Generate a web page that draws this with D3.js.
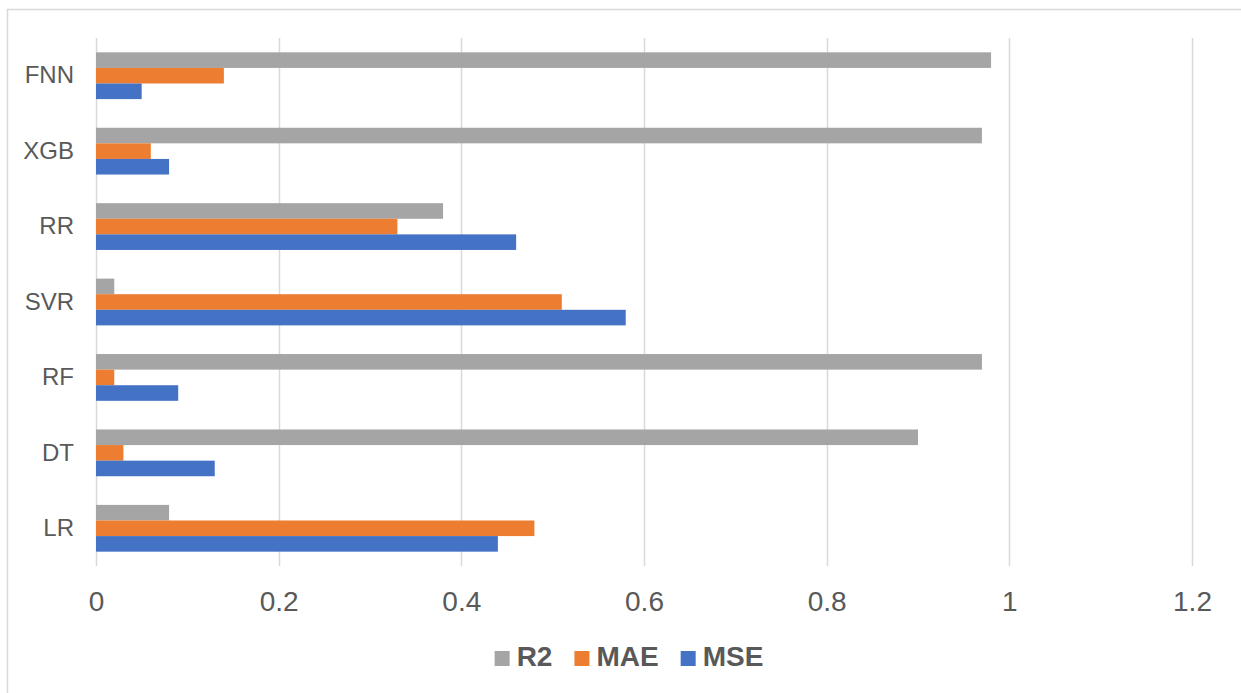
<!DOCTYPE html>
<html>
<head>
<meta charset="utf-8">
<script src="https://cdn.jsdelivr.net/npm/d3@7/dist/d3.min.js"></script>
<style>
  html, body { margin: 0; padding: 0; background: #fff; }
  svg { display: block; }
  text { font-family: "Liberation Sans", Arial, sans-serif; fill: #595959; }
</style>
</head>
<body>
<svg id="chart" width="1241" height="693"></svg>
<script>
// Models, top to bottom
const models = ["FNN", "XGB", "RR", "SVR", "RF", "DT", "LR"];
// Metrics drawn within each model group, top to bottom
const metrics = ["R2", "MAE", "MSE"];
const r2Values  = [0.98, 0.97, 0.38, 0.02, 0.97, 0.90, 0.08];
const maeValues = [0.14, 0.06, 0.33, 0.51, 0.02, 0.03, 0.48];
const mseValues = [0.05, 0.08, 0.46, 0.58, 0.09, 0.13, 0.44];
const xTicks = [0, 0.2, 0.4, 0.6, 0.8, 1, 1.2];
const metricColors = ["#A5A5A5", "#ED7D31", "#4472C4"];

const seriesValues = { R2: r2Values, MAE: maeValues, MSE: mseValues };
const rows = models.map((m, i) => ({
  model: m,
  values: metrics.map(k => ({ key: k, value: seriesValues[k][i] }))
}));

const svg = d3.select("#chart");
const plot = { left: 96, right: 1192, top: 38, bottom: 566 };

// Chart-area border
svg.append("rect")
  .attr("x", 7.5).attr("y", 9.5)
  .attr("width", 1400).attr("height", 900)
  .attr("fill", "none").attr("stroke", "#D9D9D9").attr("stroke-width", 1.5);

const x = d3.scaleLinear().domain([0, 1.2]).range([plot.left, plot.right]);
const y = d3.scaleBand().domain(models).range([plot.top, plot.bottom])
  .paddingInner(0.38).paddingOuter(0.19);
const yInner = d3.scaleBand().domain(metrics).range([0, y.bandwidth()]);
const color = d3.scaleOrdinal().domain(metrics).range(metricColors);

// Vertical gridlines
svg.append("g")
  .selectAll("line")
  .data(xTicks)
  .join("line")
  .attr("x1", d => Math.round(x(d)) + 0.5)
  .attr("x2", d => Math.round(x(d)) + 0.5)
  .attr("y1", plot.top).attr("y2", plot.bottom)
  .attr("stroke", "#D9D9D9").attr("stroke-width", 1.5);

// Bars
const groups = svg.append("g")
  .selectAll("g")
  .data(rows)
  .join("g")
  .attr("transform", d => `translate(0,${y(d.model)})`);

groups.selectAll("rect")
  .data(d => d.values)
  .join("rect")
  .attr("x", x(0))
  .attr("y", d => yInner(d.key))
  .attr("width", d => x(d.value) - x(0))
  .attr("height", yInner.bandwidth())
  .attr("fill", d => color(d.key));

// X axis labels
const xAxis = d3.axisBottom(x).tickValues(xTicks).tickSize(0).tickPadding(0)
  .tickFormat(d3.format("~g"));
const gx = svg.append("g").attr("transform", `translate(0,${plot.bottom})`).call(xAxis);
gx.select(".domain").remove();
gx.selectAll("text")
  .attr("y", 0).attr("dy", null)
  .attr("transform", "translate(0,45)")
  .style("font-size", "28px")
  .style("font-family", "'Liberation Sans', Arial, sans-serif")
  .attr("fill", "#595959");

// Y axis labels
const yAxis = d3.axisLeft(y).tickSize(0).tickPadding(22);
const gy = svg.append("g").attr("transform", `translate(${plot.left},0)`).call(yAxis);
gy.select(".domain").remove();
gy.selectAll("text")
  .style("font-size", "24px")
  .style("font-family", "'Liberation Sans', Arial, sans-serif")
  .attr("fill", "#595959");

// Legend
const legend = svg.append("g");
const items = legend.selectAll("g").data(metrics).join("g");
items.append("rect")
  .attr("width", 15).attr("height", 15)
  .attr("y", -15)
  .attr("fill", d => color(d));
items.append("text")
  .attr("x", 22)
  .attr("y", 0)
  .style("font-size", "28px")
  .style("font-weight", "bold")
  .text(d => d);
let offset = 0;
items.each(function () {
  const g = d3.select(this);
  g.attr("transform", `translate(${offset},0)`);
  const w = g.select("text").node().getComputedTextLength();
  offset += 22 + w + 22;
});
const totalW = offset - 22;
legend.attr("transform", `translate(${629 - totalW / 2},666)`);
</script>
</body>
</html>
